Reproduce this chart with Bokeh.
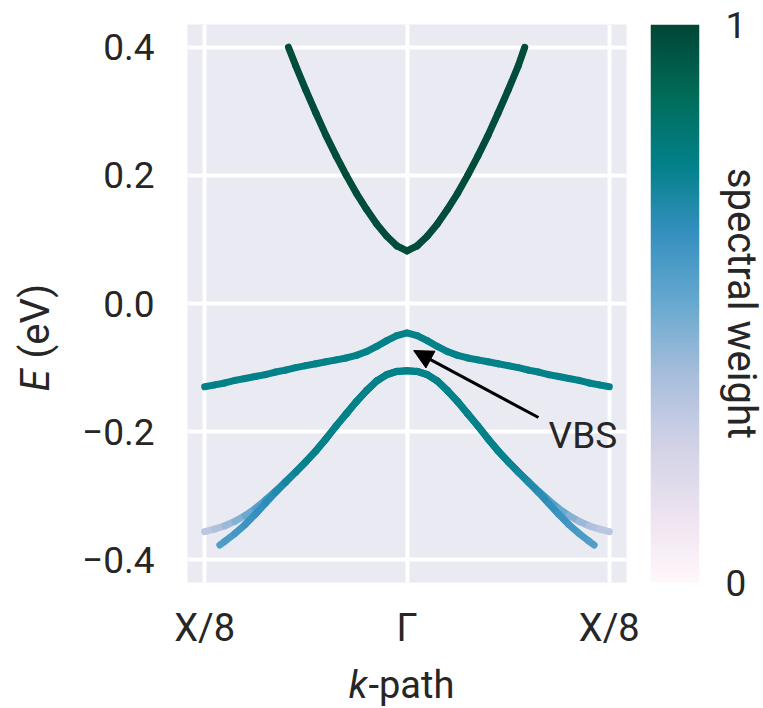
import numpy as np
from math import pi
from bokeh.plotting import figure
from bokeh.layouts import row, column
from bokeh.models import (ColumnDataSource, FixedTicker, LinearColorMapper,
                          Arrow, NormalHead, Range1d)
from bokeh.core.properties import value
from bokeh.embed import file_html
from bokeh.resources import INLINE
from bokeh.palettes import PuBuGn9

# ---------------- data ----------------
k_ticks = [-1, 0, 1]
k_tick_labels = ["X/8", "Γ", "X/8"]
E_ticks = [-0.4, -0.2, 0.0, 0.2, 0.4]
E_tick_labels = ["−0.4", "−0.2", "0.0", "0.2", "0.4"]
cbar_ticks = [0, 1]
cbar_tick_labels = ["0", "1"]

# conduction band
cb_k = [-0.586, -0.55, -0.50, -0.45, -0.40, -0.35, -0.30, -0.25, -0.20, -0.15, -0.10, -0.05, 0.00,
        0.05, 0.10, 0.15, 0.20, 0.25, 0.30, 0.35, 0.40, 0.45, 0.50, 0.55, 0.582]
cb_E = [0.400, 0.371, 0.333, 0.297, 0.262, 0.230, 0.200, 0.172, 0.147, 0.124, 0.105, 0.090, 0.082,
        0.090, 0.105, 0.124, 0.147, 0.172, 0.200, 0.230, 0.262, 0.297, 0.333, 0.371, 0.400]
cb_w = [0.98] * 25

# valence band states (upper valence band, "VBS")
vb_k = [-1.00, -0.95, -0.90, -0.85, -0.80, -0.75, -0.70, -0.65, -0.60, -0.55, -0.50, -0.45, -0.40,
        -0.35, -0.30, -0.25, -0.20, -0.15, -0.10, -0.05, 0.00, 0.05, 0.10, 0.15, 0.20, 0.25, 0.30,
        0.35, 0.40, 0.45, 0.50, 0.55, 0.60, 0.65, 0.70, 0.75, 0.80, 0.85, 0.90, 0.95, 1.00]
vbs_E = [-0.130, -0.127, -0.124, -0.120, -0.117, -0.114, -0.111, -0.107, -0.104, -0.100, -0.097,
         -0.094, -0.091, -0.088, -0.085, -0.081, -0.075, -0.067, -0.058, -0.050, -0.046,
         -0.050, -0.058, -0.067, -0.075, -0.081, -0.085, -0.088, -0.091, -0.094, -0.097,
         -0.100, -0.104, -0.107, -0.111, -0.114, -0.117, -0.120, -0.124, -0.127, -0.130]
vbs_w = [0.75] * 41

# lower valence band B (reaches the path ends)
vbB_E = [-0.356, -0.352, -0.347, -0.340, -0.331, -0.320, -0.307, -0.293, -0.278, -0.263, -0.247,
         -0.230, -0.211, -0.191, -0.172, -0.153, -0.136, -0.121, -0.111, -0.106, -0.105,
         -0.106, -0.111, -0.121, -0.136, -0.153, -0.172, -0.191, -0.211, -0.230, -0.247,
         -0.263, -0.278, -0.293, -0.307, -0.320, -0.331, -0.340, -0.347, -0.352, -0.356]
vbB_w = [0.30, 0.33, 0.37, 0.42, 0.47, 0.52, 0.57, 0.62, 0.67, 0.71, 0.74, 0.75, 0.75, 0.75, 0.75,
         0.75, 0.75, 0.75, 0.75, 0.75, 0.75, 0.75, 0.75, 0.75, 0.75, 0.75, 0.75, 0.75, 0.75, 0.75,
         0.74, 0.71, 0.67, 0.62, 0.57, 0.52, 0.47, 0.42, 0.37, 0.33, 0.30]

# lower valence band A (cut at the energy window)
vbA_k = [-0.925, -0.90, -0.85, -0.80, -0.75, -0.70, -0.65, -0.60, -0.55, -0.50, -0.45, -0.40,
         -0.35, -0.30, -0.25, -0.20, -0.15, -0.10, -0.05, 0.00, 0.05, 0.10, 0.15, 0.20, 0.25,
         0.30, 0.35, 0.40, 0.45, 0.50, 0.55, 0.60, 0.65, 0.70, 0.75, 0.80, 0.85, 0.90, 0.925]
vbA_E = [-0.377, -0.371, -0.359, -0.345, -0.329, -0.312, -0.295, -0.279, -0.263, -0.247, -0.230,
         -0.211, -0.191, -0.172, -0.153, -0.136, -0.121, -0.111, -0.106, -0.105, -0.106, -0.111,
         -0.121, -0.136, -0.153, -0.172, -0.191, -0.211, -0.230, -0.247, -0.263, -0.279, -0.295,
         -0.312, -0.329, -0.345, -0.359, -0.371, -0.377]
vbA_w = [0.55, 0.56, 0.58, 0.60, 0.62, 0.64, 0.66, 0.69, 0.72, 0.74, 0.75, 0.75, 0.75, 0.75, 0.75,
         0.75, 0.75, 0.75, 0.75, 0.75, 0.75, 0.75, 0.75, 0.75, 0.75, 0.75, 0.75, 0.75, 0.75, 0.74,
         0.72, 0.69, 0.66, 0.64, 0.62, 0.60, 0.58, 0.56, 0.55]

# annotation: arrow tip, arrow tail, text position
vbs_tip = (0.033, -0.0735)
vbs_tail = (0.65, -0.178)
vbs_text_pos = (0.70, -0.206)
vbs_text = "VBS"

# ---------------- style ----------------
FONT = "Roboto"
TXT = "#262626"
TICK_FS = "37px"
XTICK_FS = "38px"
TITLE_FS = "40px"
XTITLE_FS = "38px"

# page geometry (pixels)
YL_W = 68            # strip holding the y-axis title
ROW_H = 658          # height of the row holding the plots
PAGE_W, PAGE_H = 763, 708
XL_H = PAGE_H - ROW_H

rgb = np.array([tuple(int(h[i:i + 2], 16) for i in (1, 3, 5)) for h in PuBuGn9[::-1]], dtype=float)
pos = np.linspace(0, 1, len(rgb))
t = np.linspace(0, 1, 256)
palette = ["#%02x%02x%02x" % tuple(int(round(np.interp(tt, pos, rgb[:, j]))) for j in range(3)) for tt in t]
mapper = LinearColorMapper(palette=palette, low=0, high=1)


def blank(w, h, flip=False):
    yr = Range1d(h, 0) if flip else Range1d(0, h)
    f = figure(frame_width=w, frame_height=h, x_range=Range1d(0, w), y_range=yr,
               min_border=0, min_border_left=0, min_border_right=0, min_border_top=0, min_border_bottom=0,
               x_axis_location=None, y_axis_location=None, toolbar_location=None, output_backend="svg")
    f.grid.visible = False
    f.outline_line_color = None
    f.background_fill_color = "white"
    f.border_fill_color = "white"
    return f


# ---------------- main plot ----------------
p = figure(frame_width=439, frame_height=558,
           x_range=Range1d(-1.085, 1.085), y_range=Range1d(-0.4355, 0.4355),
           min_border_left=187 - YL_W, min_border_right=24, min_border_top=24,
           min_border_bottom=ROW_H - 24 - 558,
           toolbar_location=None, output_backend="svg")
p.background_fill_color = "#eaeaf2"
p.border_fill_color = "white"
p.outline_line_color = None
p.grid.grid_line_color = "white"
p.grid.grid_line_width = 4

p.xaxis.ticker = FixedTicker(ticks=k_ticks)
p.xaxis.major_label_overrides = {k: s for k, s in zip(k_ticks, k_tick_labels)}
p.yaxis.ticker = FixedTicker(ticks=E_ticks)
p.yaxis.major_label_overrides = {k: s for k, s in zip(E_ticks, E_tick_labels)}
for ax in (p.xaxis, p.yaxis):
    ax.axis_line_color = None
    ax.major_tick_line_color = None
    ax.minor_tick_line_color = None
    ax.major_tick_out = 0
    ax.major_tick_in = 0
    ax.major_label_text_font = FONT
    ax.major_label_text_font_size = TICK_FS
    ax.major_label_text_color = TXT
p.xaxis.major_label_text_font_size = XTICK_FS
p.yaxis.major_label_standoff = 33
p.xaxis.major_label_standoff = 23


def segs(k, E, w):
    k = np.asarray(k, float); E = np.asarray(E, float); w = np.asarray(w, float)
    return ColumnDataSource(dict(x0=k[:-1], y0=E[:-1], x1=k[1:], y1=E[1:], w=(w[:-1] + w[1:]) / 2))


for kk, EE, ww in [(cb_k, cb_E, cb_w), (vb_k, vbs_E, vbs_w), (vb_k, vbB_E, vbB_w), (vbA_k, vbA_E, vbA_w)]:
    p.segment(x0="x0", y0="y0", x1="x1", y1="y1", source=segs(kk, EE, ww),
              line_color={"field": "w", "transform": mapper}, line_width=7, line_cap="round")

p.add_layout(Arrow(end=NormalHead(size=19, fill_color="black", line_color="black", line_width=1),
                   x_start=vbs_tail[0], y_start=vbs_tail[1], x_end=vbs_tip[0], y_end=vbs_tip[1],
                   line_color="black", line_width=3))
p.text(x=[vbs_text_pos[0]], y=[vbs_text_pos[1]], text=[vbs_text], text_font=value(FONT),
       text_font_size="37px", text_color=TXT, text_align="left", text_baseline="middle")

# ---------------- colour bar ----------------
c = figure(frame_width=49, frame_height=558, x_range=Range1d(0, 1), y_range=Range1d(0, 1),
           min_border_left=0, min_border_right=64, min_border_top=24, min_border_bottom=ROW_H - 24 - 558,
           x_axis_location=None, y_axis_location="right", toolbar_location=None, output_backend="svg")
grad = np.linspace(0, 1, 256).reshape(256, 1)
c.image(image=[grad], x=0, y=0, dw=1, dh=1, color_mapper=mapper)
c.grid.visible = False
c.outline_line_color = None
c.background_fill_color = "white"
c.border_fill_color = "white"
c.yaxis.ticker = FixedTicker(ticks=cbar_ticks)
c.yaxis.major_label_overrides = {k: s for k, s in zip(cbar_ticks, cbar_tick_labels)}
c.yaxis.axis_line_color = None
c.yaxis.major_tick_line_color = None
c.yaxis.minor_tick_line_color = None
c.yaxis.major_tick_out = 0
c.yaxis.major_tick_in = 0
c.yaxis.major_label_standoff = 26
c.yaxis.major_label_text_font = FONT
c.yaxis.major_label_text_font_size = TICK_FS
c.yaxis.major_label_text_color = TXT
c.yaxis.axis_label = "spectral weight"
c.yaxis.axis_label_standoff = -31
c.yaxis.axis_label_text_font = FONT
c.yaxis.axis_label_text_font_size = "40px"
c.yaxis.axis_label_text_font_style = "normal"
c.yaxis.axis_label_text_color = TXT

# ---------------- axis titles (italic symbol + upright rest) ----------------
yl = blank(YL_W, ROW_H)
yl.text(x=[35], y=[ROW_H - 345], text=["E"], angle=pi / 2, text_align="right", text_baseline="middle",
        text_font=value(FONT), text_font_size=TITLE_FS, text_font_style="italic", text_color=TXT)
yl.text(x=[35], y=[ROW_H - 334], text=["(eV)"], angle=pi / 2, text_align="left", text_baseline="middle",
        text_font=value(FONT), text_font_size=TITLE_FS, text_color=TXT)

# strip below the row; y measured downward from its top edge
xl = blank(PAGE_W, XL_H, flip=True)
xl.text(x=[367], y=[26], text=["k"], text_align="right", text_baseline="middle",
        text_font=value(FONT), text_font_size=XTITLE_FS, text_font_style="italic", text_color=TXT)
xl.text(x=[368], y=[26], text=["-path"], text_align="left", text_baseline="middle",
        text_font=value(FONT), text_font_size=XTITLE_FS, text_color=TXT)

layout = column(row(yl, p, c), xl)
open("out.html", "w").write(file_html(layout, INLINE))
